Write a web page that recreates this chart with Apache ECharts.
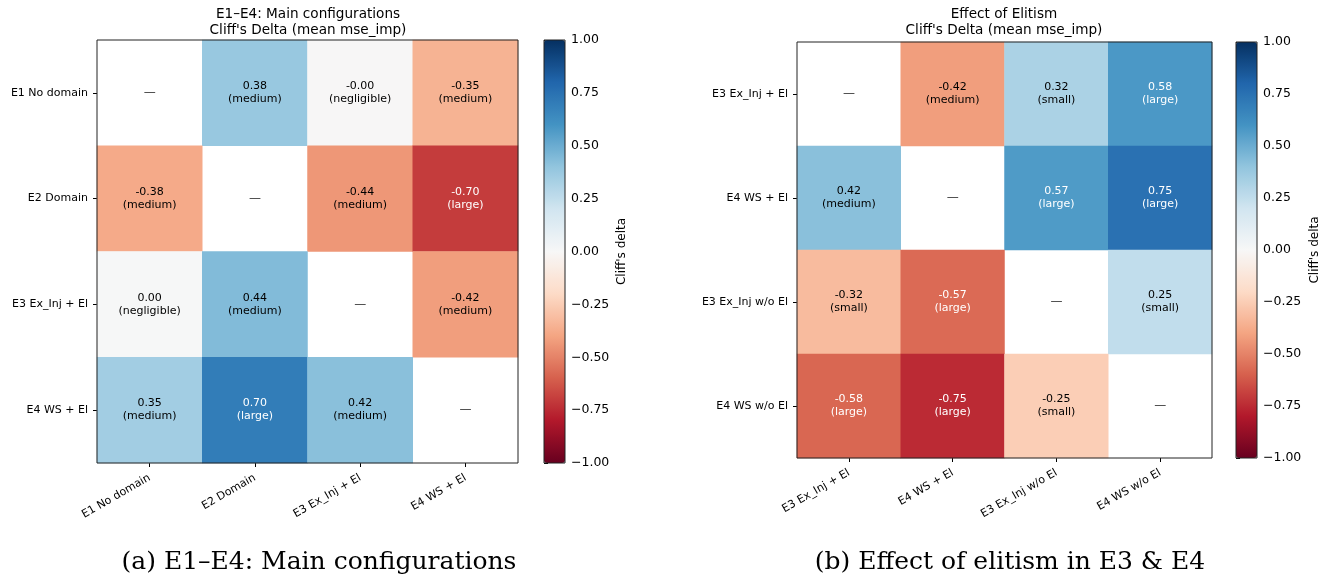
<!DOCTYPE html>
<html>
<head>
<meta charset="utf-8">
<script src="https://cdn.jsdelivr.net/npm/echarts@6/dist/echarts.min.js"></script>
<style>
  html, body { margin: 0; padding: 0; background: #fff; }
  #main { width: 1329px; height: 580px; }
</style>
</head>
<body>
<div id="main"></div>
<script>
// Panel (a): pairwise Cliff's delta between the main configurations
const mainLabels = ['E1 No domain', 'E2 Domain', 'E3 Ex_Inj + El', 'E4 WS + El'];
const mainDelta = [
  [null, 0.38, -0.004, -0.35],
  [-0.38, null, -0.44, -0.70],
  [0.004, 0.44, null, -0.42],
  [0.35, 0.70, 0.42, null]
];
const mainMagnitude = [
  [null, 'medium', 'negligible', 'medium'],
  ['medium', null, 'medium', 'large'],
  ['negligible', 'medium', null, 'medium'],
  ['medium', 'large', 'medium', null]
];

// Panel (b): with / without elitism in E3 and E4
const elitLabels = ['E3 Ex_Inj + El', 'E4 WS + El', 'E3 Ex_Inj w/o El', 'E4 WS w/o El'];
const elitDelta = [
  [null, -0.42, 0.32, 0.58],
  [0.42, null, 0.57, 0.75],
  [-0.32, -0.57, null, 0.25],
  [-0.58, -0.75, -0.25, null]
];
const elitMagnitude = [
  [null, 'medium', 'small', 'large'],
  ['medium', null, 'large', 'large'],
  ['small', 'large', null, 'small'],
  ['large', 'large', 'small', null]
];

const colorbarMin = -1;
const colorbarMax = 1;
const colorbarStep = 0.25;

// matplotlib RdBu
const RdBu = ['#67001f', '#b2182b', '#d6604d', '#f4a582', '#fddbc7', '#f7f7f7',
              '#d1e5f0', '#92c5de', '#4393c3', '#2166ac', '#053061'];

const SANS = 'DejaVu Sans';

function cells(matrix, mags) {
  const out = [];
  matrix.forEach((row, i) => row.forEach((v, j) => {
    if (v !== null) out.push([j, i, v, mags[i][j]]);
  }));
  return out;
}
function diagonal(labels) { return labels.map((_, i) => [i, i]); }

function cellLabel(p) {
  const v = p.value[2];
  const key = Math.abs(v) >= 0.5 ? 'w' : 'k';
  return '{' + key + '|' + v.toFixed(2) + '}\n{' + key + '|(' + p.value[3] + ')}';
}
const cellRich = {
  k: { color: '#000', fontFamily: SANS, fontSize: 11, lineHeight: 13 },
  w: { color: '#fff', fontFamily: SANS, fontSize: 11, lineHeight: 13 }
};

const panels = [
  { labels: mainLabels, delta: mainDelta, mags: mainMagnitude,
    grid: { left: 97, top: 40, width: 421, height: 423 },
    bar: { left: 544, top: 40, width: 21, height: 423 },
    titleX: 308, barLabelX: 622,
    title: 'E1–E4: Main configurations', caption: '(a) E1–E4: Main configurations', captionX: 319 },
  { labels: elitLabels, delta: elitDelta, mags: elitMagnitude,
    grid: { left: 797, top: 42, width: 415, height: 416 },
    bar: { left: 1236, top: 42, width: 21, height: 416 },
    titleX: 1004, barLabelX: 1315,
    title: 'Effect of Elitism', caption: '(b) Effect of elitism in E3 & E4', captionX: 1010 }
];

const grid = [], xAxis = [], yAxis = [], series = [], visualMap = [], graphic = [];

panels.forEach((pn, k) => {
  grid.push(Object.assign({ show: true, borderColor: '#222', borderWidth: 1, backgroundColor: 'transparent', z: 10 }, pn.grid));
  xAxis.push({
    type: 'category', gridIndex: k, data: pn.labels, position: 'bottom',
    axisLine: { show: false },
    axisTick: { show: true, alignWithLabel: true, length: 4, lineStyle: { color: '#000' } },
    axisLabel: { rotate: 30, fontFamily: SANS, fontSize: 11, color: '#000', margin: 14 },
    splitLine: { show: false }
  });
  yAxis.push({
    type: 'category', gridIndex: k, data: pn.labels, inverse: true,
    axisLine: { show: false },
    axisTick: { show: true, alignWithLabel: true, length: 4, lineStyle: { color: '#000' } },
    axisLabel: { fontFamily: SANS, fontSize: 11, color: '#000', margin: 9 },
    splitLine: { show: false }
  });
  series.push({
    type: 'heatmap', xAxisIndex: k, yAxisIndex: k,
    data: cells(pn.delta, pn.mags),
    label: { show: true, formatter: cellLabel, rich: cellRich },
    emphasis: { disabled: true },
    itemStyle: { borderWidth: 0 }
  });
  visualMap.push({
    type: 'continuous', seriesIndex: series.length - 1, dimension: 2,
    min: colorbarMin, max: colorbarMax, calculable: false, hoverLink: false,
    orient: 'vertical', left: pn.bar.left, top: pn.bar.top,
    itemWidth: pn.bar.width, itemHeight: pn.bar.height, padding: 0,
    inRange: { color: RdBu }
  });
  graphic.push({
    type: 'text', x: pn.titleX, y: 6,
    style: { text: pn.title + "\nCliff's Delta (mean mse_imp)", textAlign: 'center', textVerticalAlign: 'top',
             font: '13.6px ' + SANS, lineHeight: 16, fill: '#000' }
  });
  graphic.push({
    type: 'text', x: pn.barLabelX, y: pn.bar.top + pn.bar.height / 2, rotation: Math.PI / 2,
    style: { text: "Cliff's delta", textAlign: 'center', textVerticalAlign: 'middle',
             font: '12px ' + SANS, fill: '#000' }
  });
  graphic.push({
    type: 'text', x: pn.captionX, y: 562,
    style: { text: pn.caption, textAlign: 'center', textVerticalAlign: 'middle',
             font: '25px "DejaVu Serif"', fill: '#000' }
  });
});

// diagonal placeholders
panels.forEach((pn, k) => {
  series.push({
    type: 'scatter', xAxisIndex: k, yAxisIndex: k, symbolSize: 0,
    data: diagonal(pn.labels), silent: true,
    label: { show: true, position: 'inside', formatter: '—', color: '#000', fontFamily: SANS, fontSize: 12 }
  });
});

// colorbar axes
panels.forEach((pn, k) => {
  const gi = grid.length;
  grid.push(Object.assign({ show: true, borderColor: '#222', borderWidth: 1, backgroundColor: 'transparent', z: 10 }, pn.bar));
  xAxis.push({ type: 'value', gridIndex: gi, show: false });
  yAxis.push({
    type: 'value', gridIndex: gi, position: 'right', min: colorbarMin, max: colorbarMax, interval: colorbarStep,
    axisLine: { show: false },
    axisTick: { show: true, length: 4, lineStyle: { color: '#000' } },
    axisLabel: { fontFamily: SANS, fontSize: 12.5, color: '#000', margin: 6,
                 formatter: v => (v < 0 ? '\u2212' : '') + Math.abs(v).toFixed(2) },
    splitLine: { show: false }
  });
});

const chart = echarts.init(document.getElementById('main'), null, { renderer: 'canvas' });
chart.setOption({
  animation: false,
  backgroundColor: '#fff',
  tooltip: { show: false },
  grid, xAxis, yAxis, series, visualMap, graphic
});
</script>
</body>
</html>
